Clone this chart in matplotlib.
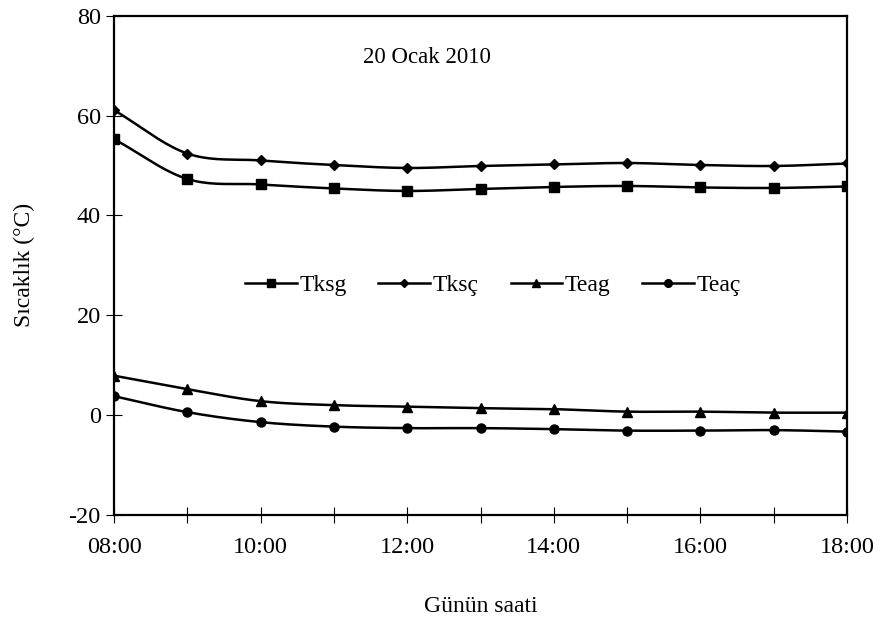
import numpy as np
import matplotlib
matplotlib.use("Agg")
import matplotlib.pyplot as plt

plt.rcParams['font.family'] = ['Liberation Serif', 'DejaVu Serif']
plt.rcParams['axes.unicode_minus'] = False

# Hour of day (x positions) and tick labels
hours = [8, 9, 10, 11, 12, 13, 14, 15, 16, 17, 18]
tick_hours = [8, 10, 12, 14, 16, 18]
tick_labels = ["08:00", "10:00", "12:00", "14:00", "16:00", "18:00"]

# Temperatures (°C)
tksg = [55.3, 47.3, 46.2, 45.4, 44.9, 45.3, 45.7, 45.9, 45.6, 45.5, 45.8]
tksc = [61.1, 52.4, 51.0, 50.1, 49.5, 49.9, 50.2, 50.5, 50.1, 49.9, 50.4]
teag = [7.9, 5.2, 2.8, 2.0, 1.7, 1.4, 1.2, 0.7, 0.7, 0.5, 0.5]
teac = [3.8, 0.6, -1.4, -2.3, -2.6, -2.6, -2.8, -3.1, -3.1, -3.0, -3.3]

series = [
    ("Tksg", tksg, "s", 6.5),
    ("Tksç", tksc, "D", 5.0),
    ("Teag", teag, "^", 7.0),
    ("Teaç", teac, "o", 6.5),
]


def smooth(x, y, n=20):
    """Catmull-Rom curve through the points (x, y)."""
    x = np.asarray(x, float)
    y = np.asarray(y, float)
    px = np.concatenate([[2 * x[0] - x[1]], x, [2 * x[-1] - x[-2]]])
    py = np.concatenate([[2 * y[0] - y[1]], y, [2 * y[-1] - y[-2]]])
    xs, ys = [], []
    t = np.linspace(0, 1, n, endpoint=False)
    for i in range(1, len(px) - 2):
        for p, out in ((px, xs), (py, ys)):
            p0, p1, p2, p3 = p[i - 1], p[i], p[i + 1], p[i + 2]
            out.extend(0.5 * ((2 * p1) + (-p0 + p2) * t
                              + (2 * p0 - 5 * p1 + 4 * p2 - p3) * t ** 2
                              + (-p0 + 3 * p1 - 3 * p2 + p3) * t ** 3))
    xs.append(x[-1])
    ys.append(y[-1])
    return np.array(xs), np.array(ys)


fig = plt.figure(figsize=(8.84, 6.23), dpi=100)
ax = fig.add_axes([114 / 884, 1 - 515 / 623, 733 / 884, 499.3 / 623])

handles = []
for name, vals, marker, ms in series:
    sx, sy = smooth(hours, vals)
    ax.plot(sx, sy, color="black", lw=1.8, solid_capstyle="round", zorder=2)
    ax.plot(hours, vals, linestyle="none", marker=marker, ms=ms,
            color="black", zorder=3)
    h, = ax.plot([], [], color="black", lw=1.8, marker=marker,
                 ms=ms * 0.85, label=name)
    handles.append(h)

ax.set_xlim(8, 18)
ax.set_ylim(-20, 80)
ax.set_xticks(tick_hours)
ax.set_xticklabels(tick_labels)
ax.set_xticks([9, 11, 13, 15, 17], minor=True)
ax.set_yticks([-20, 0, 20, 40, 60, 80])

for side in ax.spines.values():
    side.set_linewidth(1.6)
ax.tick_params(axis="both", which="both", direction="inout", length=11,
               width=0.8, labelsize=17.5)
ax.tick_params(axis="x", pad=10)
ax.tick_params(axis="y", pad=4)

ax.set_xlabel("Günün saati", fontsize=17, labelpad=28)
ax.set_ylabel("Sıcaklık (°C)", fontsize=17, labelpad=24)

ax.text(0.427, 0.917, "20 Ocak 2010", transform=ax.transAxes,
        ha="center", va="center", fontsize=16.5)

ax.legend(handles=handles, loc="center", bbox_to_anchor=(0.517, 0.46),
          ncol=4, frameon=False, fontsize=17, handlelength=2.2,
          handletextpad=0.1, columnspacing=1.35, numpoints=1)

fig.savefig("out.png", dpi=100)
